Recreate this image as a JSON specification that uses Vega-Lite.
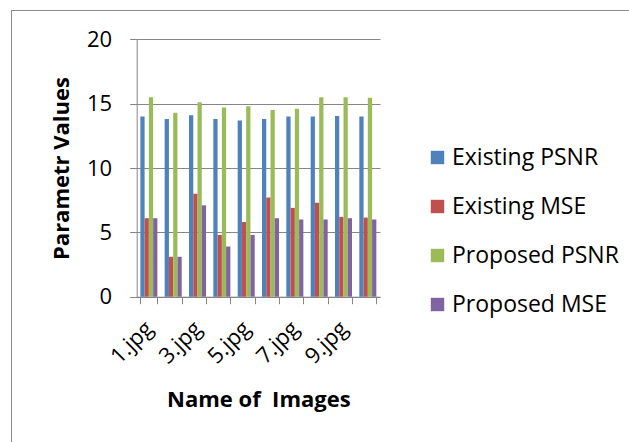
{
  "$schema": "https://vega.github.io/schema/vega-lite/v6.json",
  "autosize": "none",
  "padding": {"left": 11, "top": 10, "right": 0, "bottom": 0},
  "width": 618,
  "height": 432,
  "background": "white",
  "config": {
    "font": "Open Sans",
    "view": {"stroke": "#8a8a8a", "strokeWidth": 1, "strokeDash": [618, 1050, 432, 10]},
    "axis": {
      "domainColor": "#868686",
      "tickColor": "#868686",
      "gridColor": "#868686",
      "gridOpacity": 1,
      "labelColor": "#000000",
      "titleColor": "#000000",
      "labelFont": "Open Sans",
      "titleFont": "Open Sans",
      "labelFontSize": 22,
      "titleFontSize": 22,
      "titleFontWeight": "bold"
    }
  },
  "data": {
    "values": [
      {"image": "1.jpg", "series": "Existing PSNR", "value": 14.0},
      {"image": "1.jpg", "series": "Existing MSE", "value": 6.1},
      {"image": "1.jpg", "series": "Proposed PSNR", "value": 15.5},
      {"image": "1.jpg", "series": "Proposed MSE", "value": 6.1},
      {"image": "2.jpg", "series": "Existing PSNR", "value": 13.8},
      {"image": "2.jpg", "series": "Existing MSE", "value": 3.1},
      {"image": "2.jpg", "series": "Proposed PSNR", "value": 14.3},
      {"image": "2.jpg", "series": "Proposed MSE", "value": 3.1},
      {"image": "3.jpg", "series": "Existing PSNR", "value": 14.1},
      {"image": "3.jpg", "series": "Existing MSE", "value": 8.0},
      {"image": "3.jpg", "series": "Proposed PSNR", "value": 15.1},
      {"image": "3.jpg", "series": "Proposed MSE", "value": 7.1},
      {"image": "4.jpg", "series": "Existing PSNR", "value": 13.8},
      {"image": "4.jpg", "series": "Existing MSE", "value": 4.8},
      {"image": "4.jpg", "series": "Proposed PSNR", "value": 14.7},
      {"image": "4.jpg", "series": "Proposed MSE", "value": 3.9},
      {"image": "5.jpg", "series": "Existing PSNR", "value": 13.7},
      {"image": "5.jpg", "series": "Existing MSE", "value": 5.8},
      {"image": "5.jpg", "series": "Proposed PSNR", "value": 14.8},
      {"image": "5.jpg", "series": "Proposed MSE", "value": 4.8},
      {"image": "6.jpg", "series": "Existing PSNR", "value": 13.8},
      {"image": "6.jpg", "series": "Existing MSE", "value": 7.7},
      {"image": "6.jpg", "series": "Proposed PSNR", "value": 14.5},
      {"image": "6.jpg", "series": "Proposed MSE", "value": 6.1},
      {"image": "7.jpg", "series": "Existing PSNR", "value": 14.0},
      {"image": "7.jpg", "series": "Existing MSE", "value": 6.9},
      {"image": "7.jpg", "series": "Proposed PSNR", "value": 14.6},
      {"image": "7.jpg", "series": "Proposed MSE", "value": 6.0},
      {"image": "8.jpg", "series": "Existing PSNR", "value": 14.0},
      {"image": "8.jpg", "series": "Existing MSE", "value": 7.3},
      {"image": "8.jpg", "series": "Proposed PSNR", "value": 15.5},
      {"image": "8.jpg", "series": "Proposed MSE", "value": 6.0},
      {"image": "9.jpg", "series": "Existing PSNR", "value": 14.05},
      {"image": "9.jpg", "series": "Existing MSE", "value": 6.2},
      {"image": "9.jpg", "series": "Proposed PSNR", "value": 15.5},
      {"image": "9.jpg", "series": "Proposed MSE", "value": 6.1},
      {"image": "10.jpg", "series": "Existing PSNR", "value": 14.0},
      {"image": "10.jpg", "series": "Existing MSE", "value": 6.15},
      {"image": "10.jpg", "series": "Proposed PSNR", "value": 15.45},
      {"image": "10.jpg", "series": "Proposed MSE", "value": 6.0}
    ]
  },
  "mark": {"type": "bar"},
  "encoding": {
    "x": {
      "field": "image",
      "type": "nominal",
      "sort": null,
      "scale": {"range": [125.7, 369], "paddingInner": 0.3, "paddingOuter": 0.15},
      "axis": {
        "orient": "bottom",
        "offset": -145.3,
        "title": "Name of\u00a0 Images",
        "labelAngle": -45,
        "labelAlign": "right",
        "labelBaseline": "middle",
        "labelPadding": 21,
        "labelOverlap": false,
        "labelExpr": "indexof(['1.jpg','3.jpg','5.jpg','7.jpg','9.jpg'], datum.value) >= 0 ? datum.label : ''",
        "tickBand": "extent",
        "tickSize": 7,
        "grid": false,
        "titleBaseline": "alphabetic",
        "titleY": 110
      }
    },
    "xOffset": {
      "field": "series",
      "type": "nominal",
      "sort": ["Existing PSNR", "Existing MSE", "Proposed PSNR", "Proposed MSE"],
      "scale": {"paddingInner": 0, "paddingOuter": 0}
    },
    "y": {
      "field": "value",
      "type": "quantitative",
      "scale": {"domain": [0, 20], "range": [286.7, 29.3], "nice": false},
      "axis": {
        "offset": -125.7,
        "title": "Parametr Values",
        "values": [0, 5, 10, 15, 20],
        "tickSize": 7,
        "labelPadding": 18,
        "grid": true,
        "titleBaseline": "alphabetic",
        "titleX": -68
      }
    },
    "color": {
      "field": "series",
      "type": "nominal",
      "sort": ["Existing PSNR", "Existing MSE", "Proposed PSNR", "Proposed MSE"],
      "scale": {
        "domain": ["Existing PSNR", "Existing MSE", "Proposed PSNR", "Proposed MSE"],
        "range": ["#4F81BD", "#C0504D", "#9BBB59", "#8064A2"]
      },
      "legend": {
        "title": null,
        "orient": "none",
        "direction": "vertical",
        "legendX": 415,
        "legendY": 136,
        "symbolType": "square",
        "symbolSize": 180,
        "symbolStrokeWidth": 0,
        "labelFontSize": 23,
        "labelFont": "Open Sans",
        "labelColor": "#000000",
        "labelOffset": 3,
        "labelLimit": 400,
        "rowPadding": 25,
        "padding": 0
      }
    }
  }
}
